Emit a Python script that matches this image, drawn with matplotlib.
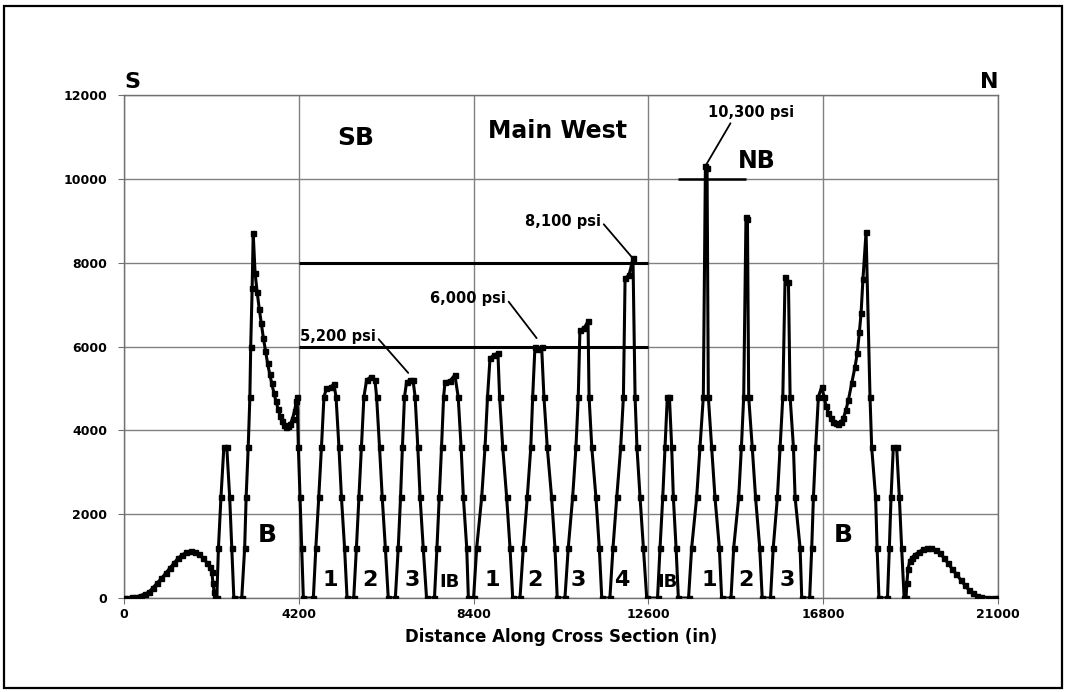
import matplotlib.pyplot as plt
from matplotlib.patches import Rectangle

# pillar stress profile, split by zone (distance in inches, stress in psi)
south_x = [0, 100, 200, 300, 400, 500, 600, 700, 800, 900, 1000, 1100, 1200, 1300, 1400,
           1500, 1600, 1700, 1800, 1900, 2000, 2060, 2110, 2140, 2165, 2190,
           2230, 2270, 2330, 2400, 2470, 2540, 2590, 2640,
           2830, 2900, 2935, 2985, 3025, 3045, 3080, 3105,
           3150, 3200, 3250, 3300, 3350, 3400, 3450, 3500, 3550, 3600, 3650, 3700,
           3750, 3800, 3850, 3900, 3950, 4000, 4050, 4100, 4140, 4160,
           4190, 4230, 4270, 4310]
south_y = [0, 5, 15, 30, 60, 100, 140, 250, 360, 470, 590, 710, 830, 950, 1030,
           1090, 1110, 1100, 1040, 960, 830, 740, 620, 350, 150, 0,
           0, 1200, 2400, 3600, 3600, 2400, 1200, 0,
           0, 1200, 2400, 3600, 4800, 6000, 7400, 8700,
           7750, 7300, 6900, 6550, 6200, 5900, 5600, 5350, 5120, 4900, 4700, 4520,
           4350, 4220, 4130, 4090, 4100, 4160, 4280, 4470, 4700, 4800,
           3600, 2400, 1200, 0]

sb3_peak = 5200
sb_x = [4550, 4610, 4680, 4745, 4805, 4865, 4970, 5045, 5095, 5165, 5225, 5300, 5360,
        5520, 5585, 5645, 5705, 5765, 5830, 5935, 6030, 6070, 6140, 6205, 6280, 6350,
        6520, 6590, 6645, 6690, 6740, 6790, 6870, 6945, 6995, 7060, 7115, 7190, 7270,
        7460, 7520, 7575, 7630, 7680, 7715, 7830, 7950, 8030, 8100, 8155, 8235, 8275]
sb_y = [0, 1200, 2400, 3600, 4800, 5000, 5040, 5100, 4800, 3600, 2400, 1200, 0,
        0, 1200, 2400, 3600, 4800, 5200, 5280, 5200, 4800, 3600, 2400, 1200, 0,
        0, 1200, 2400, 3600, 4800, 5150, sb3_peak, sb3_peak, 4800, 3600, 2400, 1200, 0,
        0, 1200, 2400, 3600, 4800, 5160, 5180, 5320, 4800, 3600, 2400, 1200, 0]

mw2_peak = 6000
mw4_peak = 8100
mw_x = [8400, 8475, 8595, 8675, 8735, 8795, 8890, 8985, 9025, 9100, 9195, 9275, 9340,
        9515, 9595, 9690, 9775, 9820, 9875, 9955, 10035, 10090, 10170, 10275, 10355, 10410,
        10595, 10675, 10780, 10860, 10915, 10955, 11055, 11150, 11175, 11240, 11340, 11420, 11480,
        11675, 11750, 11840, 11935, 12000, 12040, 12135, 12230, 12280, 12325, 12400, 12480, 12560]
mw_y = [0, 1200, 2400, 3600, 4800, 5720, 5800, 5840, 4800, 3600, 2400, 1200, 0,
        0, 1200, 2400, 3600, 4800, mw2_peak, 5950, mw2_peak, 4800, 3600, 2400, 1200, 0,
        0, 1200, 2400, 3600, 4800, 6390, 6440, 6600, 4800, 3600, 2400, 1200, 0,
        0, 1200, 2400, 3600, 4800, 7630, 7700, mw4_peak, 4800, 3600, 2400, 1200, 0]

nb1_peak = 10300
nb_x = [12820, 12880, 12945, 13000, 13055, 13105, 13160, 13200, 13265, 13320,
        13565, 13640, 13760, 13840, 13920, 13970, 14010, 14040, 14120, 14200, 14305, 14360,
        14585, 14650, 14770, 14835, 14890, 14945, 14980, 15010, 15095, 15175, 15275, 15335,
        15535, 15600, 15700, 15765, 15830, 15885, 15965, 16005, 16085, 16125, 16245, 16285]
nb_y = [0, 1200, 2400, 3600, 4800, 4800, 3600, 2400, 1200, 0,
        0, 1200, 2400, 3600, 4800, nb1_peak, 10250, 4800, 3600, 2400, 1200, 0,
        0, 1200, 2400, 3600, 4800, 9100, 9050, 4800, 3600, 2400, 1200, 0,
        0, 1200, 2400, 3600, 4800, 7670, 7550, 4800, 3600, 2400, 1200, 0]

north_x = [16475, 16525, 16565, 16620, 16685, 16765, 16820, 16870, 16925, 16980, 17040,
           17100, 17165, 17225, 17285, 17345, 17405, 17485, 17565, 17620, 17670, 17710,
           17755, 17830, 17925, 17965, 18060, 18095, 18140,
           18345, 18390, 18430, 18485, 18565, 18630, 18685, 18745,
           18790, 18810, 18840, 18880, 18930, 19000, 19100, 19200, 19300, 19400, 19500,
           19600, 19700, 19800, 19900, 20000, 20100, 20200, 20300, 20400, 20500, 20600,
           20750, 20900, 21000]
north_y = [0, 1200, 2400, 3600, 4800, 5040, 4800, 4580, 4410, 4290, 4210,
           4170, 4150, 4200, 4290, 4480, 4720, 5120, 5520, 5840, 6350, 6790,
           7600, 8730, 4800, 3600, 2400, 1200, 0,
           0, 1200, 2400, 3600, 3600, 2400, 1200, 0,
           0, 350, 700, 880, 960, 1030, 1100, 1160, 1200, 1200, 1150,
           1070, 960, 830, 690, 570, 440, 310, 190, 110, 60, 30,
           10, 0, 0]

distance = south_x + sb_x + mw_x + nb_x + north_x
stress = south_y + sb_y + mw_y + nb_y + north_y

plt.rcParams['font.family'] = 'DejaVu Sans'
plt.rcParams['font.weight'] = 'bold'

fig = plt.figure(figsize=(10.66, 6.92), dpi=100)
ax = fig.add_axes([0.1163, 0.1358, 0.8199, 0.7269])

# outer frame
fig.patches.append(Rectangle((0.004, 0.006), 0.992, 0.985, transform=fig.transFigure,
                             fill=False, edgecolor='black', lw=1.6))

ax.set_xlim(0, 21000)
ax.set_ylim(0, 12000)
ax.set_xticks(range(0, 21001, 4200))
ax.set_yticks(range(0, 12001, 2000))
ax.grid(True, color='#808080', lw=1.0)
ax.set_axisbelow(True)
for sp in ax.spines.values():
    sp.set_color('#707070')
    sp.set_linewidth(1.0)
ax.tick_params(axis='both', direction='out', length=4, color='#707070', labelsize=9)
ax.tick_params(axis='y', pad=8)
for lbl in ax.get_xticklabels() + ax.get_yticklabels():
    lbl.set_fontweight('bold')

ax.set_xlabel('Distance Along Cross Section (in)', fontsize=12, fontweight='bold', labelpad=5)

# reference stress levels
ax.hlines([6000, 8000], 4200, 12600, colors='black', lw=2.2)
ax.hlines(10000, 13300, 14950, colors='black', lw=1.8)

ax.plot(distance, stress, '-s', color='black', lw=2.2, ms=3.6, zorder=3)

# peak callouts
leader = dict(arrowstyle='-', lw=1.3, color='black', shrinkA=0, shrinkB=0)
ax.annotate('5,200 psi', xy=(6830, sb3_peak + 170), xytext=(4229, 6250), ha='left', va='center',
            fontsize=10.5, fontweight='bold', arrowprops=dict(leader, relpos=(1, 0.5)))
ax.annotate('6,000 psi', xy=(9915, mw2_peak + 200), xytext=(7352, 7157), ha='left', va='center',
            fontsize=10.5, fontweight='bold', arrowprops=dict(leader, relpos=(1, 0.5)))
ax.annotate('8,100 psi', xy=(12230, mw4_peak), xytext=(9635, 8994), ha='left', va='center',
            fontsize=10.5, fontweight='bold', arrowprops=dict(leader, relpos=(1, 0.5)))
ax.annotate('10,300 psi', xy=(13990, nb1_peak + 40), xytext=(14032, 11571), ha='left', va='center',
            fontsize=10.5, fontweight='bold', arrowprops=dict(leader, relpos=(0.28, 0)))

# panel names
big = dict(ha='center', va='center', fontweight='bold', clip_on=False)
ax.text(5574, 10974, 'SB', fontsize=18, **big)
ax.text(10428, 11141, 'Main West', fontsize=17, **big)
ax.text(15209, 10425, 'NB', fontsize=17, **big)
ax.text(3436, 1503, 'B', fontsize=18, **big)
ax.text(17275, 1503, 'B', fontsize=18, **big)
ax.text(192, 12310, 'S', fontsize=16, **big)
ax.text(20783, 12310, 'N', fontsize=16, **big)

# pillar numbers
pillar_names = ['1', '2', '3', 'IB', '1', '2', '3', '4', 'IB', '1', '2', '3']
pillar_pos = [4950, 5911, 6920, 7833, 8842, 9875, 10908, 11965, 13071, 14056, 14945, 15930]
for name, px in zip(pillar_names, pillar_pos):
    if name == 'IB':
        ax.text(px, 380, name, fontsize=13, **big)
    else:
        ax.text(px, 430, name, fontsize=16, **big)

fig.savefig('out.png', dpi=100)
